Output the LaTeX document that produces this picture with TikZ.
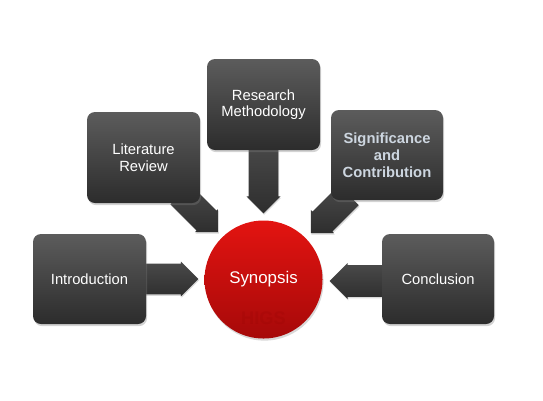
\documentclass[tikz,border=0pt]{standalone}
\usepackage{fontspec}
\setmainfont{Liberation Sans}
\usetikzlibrary{shapes.arrows,shadows,calc}
\newdimen\pxu \pxu=0.02cm
\definecolor{boxtop}{HTML}{5C5C5C}
\definecolor{boxbot}{HTML}{2C2C2C}
\definecolor{arrtop}{HTML}{4A4A4A}
\definecolor{arrbot}{HTML}{2E2E2E}
\definecolor{redtop}{HTML}{E31411}
\definecolor{redbot}{HTML}{A60909}
\definecolor{sigtext}{HTML}{CDD6E0}
\tikzset{
  darkbox/.style={rectangle, rounded corners=8\pxu, top color=boxtop, bottom color=boxbot,
    draw=none, text=white, align=center, minimum width=113\pxu, minimum height=90\pxu,
    font=\fontsize{8.4}{9.4}\selectfont,
    drop shadow={shadow xshift=0.6pt, shadow yshift=-1.2pt, opacity=0.35}},
  barrow/.style={single arrow, draw=none, top color=arrtop, bottom color=arrbot,
    inner xsep=0pt, single arrow tip angle=90, single arrow head extend=1pt,
    sloped, allow upside down, pos=0, anchor=tail,
    drop shadow={shadow xshift=0.4pt, shadow yshift=-0.8pt, opacity=0.3}},
  hub/.style={circle, minimum size=118\pxu, inner sep=0pt, top color=redtop, bottom color=redbot,
    draw=none, text=white, font=\fontsize{9.6}{11}\selectfont,
    drop shadow={shadow xshift=0.6pt, shadow yshift=-1.2pt, opacity=0.3}}
}
\begin{document}
\begin{tikzpicture}[x=0.02cm,y=-0.02cm]
\useasboundingbox (0,0) rectangle (543,400);
% hub
\node[hub] (syn) at (263.5,279.5) {Synopsis};
\node[text=red!55!black, opacity=0.16, font=\fontsize{10.4}{12}\selectfont\bfseries] (higs) at (263.5,318) {HIGS};
% arrow end coordinates
\coordinate (litS) at (180,194);
\coordinate (litT) at (218,232);
\coordinate (resS) at (263.5,140);
\coordinate (resT) at (263.5,213);
\coordinate (sigS) at (349,195);
\coordinate (sigT) at (311,233);
\coordinate (intS) at (140,279);
\coordinate (intT) at (198,279);
\coordinate (conS) at (388,281);
\coordinate (conT) at (330,281);
% arrows
\path (litS) -- (litT) node[barrow, inner ysep=10\pxu, minimum width=33\pxu, minimum height=53.7\pxu] (a2) {};
\path (resS) -- (resT) node[barrow, inner ysep=12\pxu, minimum width=34\pxu, minimum height=73\pxu] (a3) {};
\path (sigS) -- (sigT) node[barrow, inner ysep=10\pxu, minimum width=33\pxu, minimum height=53.7\pxu] (a4) {};
\path (intS) -- (intT) node[barrow, inner ysep=12.5\pxu, minimum width=35\pxu, minimum height=58\pxu] (a1) {};
\path (conS) -- (conT) node[barrow, inner ysep=13\pxu, minimum width=36\pxu, minimum height=58\pxu] (a5) {};
% boxes
\node[darkbox] (intro) at (89.5,279) {Introduction};
\node[darkbox, minimum height=91\pxu] (lit) at (143.5,157.5) {Literature\\Review};
\node[darkbox, minimum height=91\pxu] (res) at (263.5,104.5) {Research\\Methodology};
\node[darkbox, minimum width=112\pxu, text=sigtext, font=\fontsize{8.4}{9.6}\selectfont\bfseries] (sig) at (387,155) {Significance\\and\\Contribution};
\node[darkbox, minimum width=112\pxu] (conc) at (438,279) {Conclusion};
\end{tikzpicture}
\end{document}
